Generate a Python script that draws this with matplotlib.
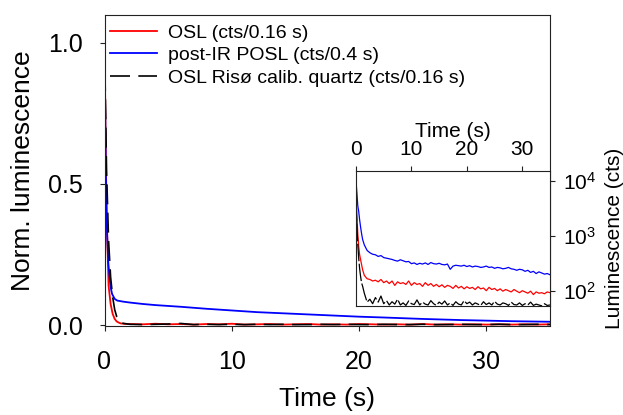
import numpy as np
import matplotlib
matplotlib.use("Agg")
import matplotlib.pyplot as plt

plt.rcParams['font.family'] = ['Liberation Sans', 'DejaVu Sans']
plt.rcParams['mathtext.fontset'] = 'custom'
plt.rcParams['mathtext.rm'] = 'Liberation Sans'
plt.rcParams['mathtext.it'] = 'Liberation Sans:italic'

# ---------------- main panel data (normalised) ----------------
osl_t_head = [0, 0.16, 0.32, 0.48, 0.64, 0.8, 0.96, 1.12, 1.28, 1.5]
osl_red_head = [1.0, 0.40, 0.14, 0.075, 0.04, 0.022, 0.013, 0.009, 0.006, 0.005]
osl_black_head = [1.0, 0.55, 0.30, 0.17, 0.10, 0.055, 0.03, 0.017, 0.010, 0.006]
tail_t = list(range(2, 36))
osl_red_tail = [0.004, 0.003, 0.005, 0.003, 0.004, 0.002, 0.004, 0.003, 0.005, 0.002,
                0.003, 0.004, 0.002, 0.003, 0.004, 0.002, 0.003, 0.002, 0.004, 0.003,
                0.002, 0.003, 0.002, 0.004, 0.002, 0.003, 0.002, 0.003, 0.002, 0.003,
                0.002, 0.003, 0.002, 0.003]
osl_black_tail = [0.003, 0.002, 0.003, 0.004, 0.006, 0.002, 0.003, 0.002, 0.003, 0.002,
                  0.003, 0.002, 0.003, 0.002, 0.002, 0.003, 0.002, 0.003, 0.002, 0.002,
                  0.003, 0.002, 0.002, 0.003, 0.002, 0.002, 0.003, 0.002, 0.002, 0.003,
                  0.002, 0.002, 0.003, 0.002]
posl_t = [0, 0.1, 0.2, 0.3, 0.4, 0.5, 0.6, 0.8, 1.0, 1.5, 2, 3, 4, 5, 6, 8, 10, 12,
          15, 18, 20, 22, 25, 28, 30, 32, 35]
posl_norm = [1.0, 0.55, 0.33, 0.22, 0.17, 0.13, 0.11, 0.093, 0.087, 0.083, 0.080,
             0.075, 0.071, 0.068, 0.065, 0.058, 0.052, 0.046, 0.040, 0.034, 0.030,
             0.027, 0.022, 0.018, 0.016, 0.014, 0.012]

# ---------------- inset data (counts) ----------------
inset_t_head = [0, 0.16, 0.32, 0.48, 0.64, 0.8, 1.0, 1.2, 1.5]
inset_t_tail = np.arange(2.0, 35.01, 0.5)
blue_head = [10000, 6000, 3500, 2800, 2000, 1500, 1100, 850, 680]
blue_tail = [540, 490, 460, 450, 420, 435, 400, 390, 380, 370,
             355, 345, 365, 350, 335, 340, 310, 320, 300, 315,
             305, 320, 300, 325, 310, 305, 315, 300, 295, 305,
             245, 280, 290, 285, 280, 290, 275, 285, 270, 280,
             275, 265, 270, 280, 265, 270, 255, 265, 260, 250,
             255, 265, 250, 245, 235, 245, 240, 225, 235, 215,
             225, 205, 220, 210, 200, 205, 195]
red_head = [6500, 2500, 1100, 650, 460, 380, 300, 240, 190]
red_tail = [165, 160, 150, 155, 145, 160, 140, 150, 135, 150,
            125, 145, 135, 140, 130, 150, 125, 140, 130, 135,
            120, 140, 125, 135, 120, 130, 118, 128, 115, 125,
            120, 110, 125, 112, 120, 108, 118, 110, 115, 105,
            118, 108, 112, 100, 115, 105, 110, 100, 108, 98,
            105, 100, 95, 105, 98, 92, 100, 95, 90, 98,
            85, 95, 90, 92, 88, 95, 92]
black_head = [3800, 1500, 700, 400, 260, 190, 140, 120, 90]
black_tail = [62, 70, 58, 75, 62, 80, 58, 66, 55, 63,
              57, 70, 55, 60, 54, 65, 58, 56, 68, 55,
              62, 57, 55, 66, 58, 54, 62, 57, 65, 55,
              60, 54, 63, 57, 55, 66, 58, 62, 55, 60,
              57, 54, 63, 56, 60, 55, 64, 57, 55, 60,
              58, 54, 62, 56, 55, 60, 54, 58, 55, 62,
              54, 57, 55, 53, 58, 54, 55]

labels = ["OSL (cts/0.16 s)", "post-IR POSL (cts/0.4 s)",
          "OSL Risø calib. quartz (cts/0.16 s)"]

W, H = 623, 415
fig = plt.figure(figsize=(W / 100, H / 100), dpi=100)

spine_c = '#222222'
ax = fig.add_axes([104.5 / W, 1 - 326 / H, 445.5 / W, 311 / H])
osl_t = osl_t_head + tail_t
l1, = ax.plot(osl_t, osl_red_head + osl_red_tail, color='#ff0000', lw=1.3)
l2, = ax.plot(posl_t, posl_norm, color='#0000ff', lw=1.3)
l3, = ax.plot(osl_t, osl_black_head + osl_black_tail, color='black', lw=1.2,
              dashes=(12, 5))
ax.set_xlim(0, 35)
ax.set_ylim(-0.003, 1.098)
ax.set_xticks([0, 10, 20, 30])
ax.set_yticks([0.0, 0.5, 1.0])
ax.set_yticklabels(['0.0', '0.5', '1.0'])
ax.tick_params(axis='x', direction='out', length=3.5, width=0.8, labelsize=18,
               pad=14, color=spine_c)
ax.tick_params(axis='y', direction='out', length=3.5, width=0.8, labelsize=18,
               pad=12, color=spine_c)
for s in ax.spines.values():
    s.set_linewidth(0.8)
    s.set_color(spine_c)
ax.set_xlabel('Time (s)', fontsize=19)
ax.xaxis.set_label_coords(0.5, (326 - 399) / 311)
ax.set_ylabel('Norm. luminescence', fontsize=19)
ax.yaxis.set_label_coords((23 - 104.5) / 445.5, 0.5)
ax.xaxis.label.set_va('center')
ax.yaxis.label.set_va('center')

leg = ax.legend([l1, l2, l3], labels, loc='upper left',
                bbox_to_anchor=((110 - 104.5) / 445.5, (326 - 24) / 311),
                frameon=False, fontsize=14, borderpad=0, borderaxespad=0,
                handlelength=2.43, handletextpad=0.57, labelspacing=0.25)

# ---------------- inset ----------------
axi = fig.add_axes([356 / W, 1 - 306 / H, 194 / W, 135 / H])
it = np.concatenate([inset_t_head, inset_t_tail])
axi.plot(it, blue_head + blue_tail, color='#0000ff', lw=0.9)
axi.plot(it, red_head + red_tail, color='#ff0000', lw=0.9)
axi.plot(it, black_head + black_tail, color='black', lw=0.9, dashes=(14, 2))
axi.set_yscale('log')
axi.set_xlim(0, 35)
axi.set_ylim(52.7, 15000)
axi.set_xticks([0, 10, 20, 30])
axi.set_yticks([100, 1000, 10000])
axi.yaxis.set_minor_locator(matplotlib.ticker.NullLocator())
axi.xaxis.tick_top()
axi.xaxis.set_label_position('top')
axi.yaxis.tick_right()
axi.yaxis.set_label_position('right')
axi.tick_params(axis='both', direction='out', length=3.5, width=0.8,
                labelsize=15, color=spine_c)
axi.tick_params(axis='x', pad=5)
axi.tick_params(axis='y', pad=6)
for s in axi.spines.values():
    s.set_linewidth(0.8)
    s.set_color(spine_c)
axi.set_xlabel('Time (s)', fontsize=15)
axi.xaxis.set_label_coords(0.5, (306 - 131) / 135)
axi.xaxis.label.set_va('center')
axi.set_ylabel('Luminescence (cts)', fontsize=15, rotation=90)
axi.yaxis.set_label_coords((614 - 356) / 194, 0.5)
axi.yaxis.label.set_va('center')

fig.savefig('out.png', dpi=100)
